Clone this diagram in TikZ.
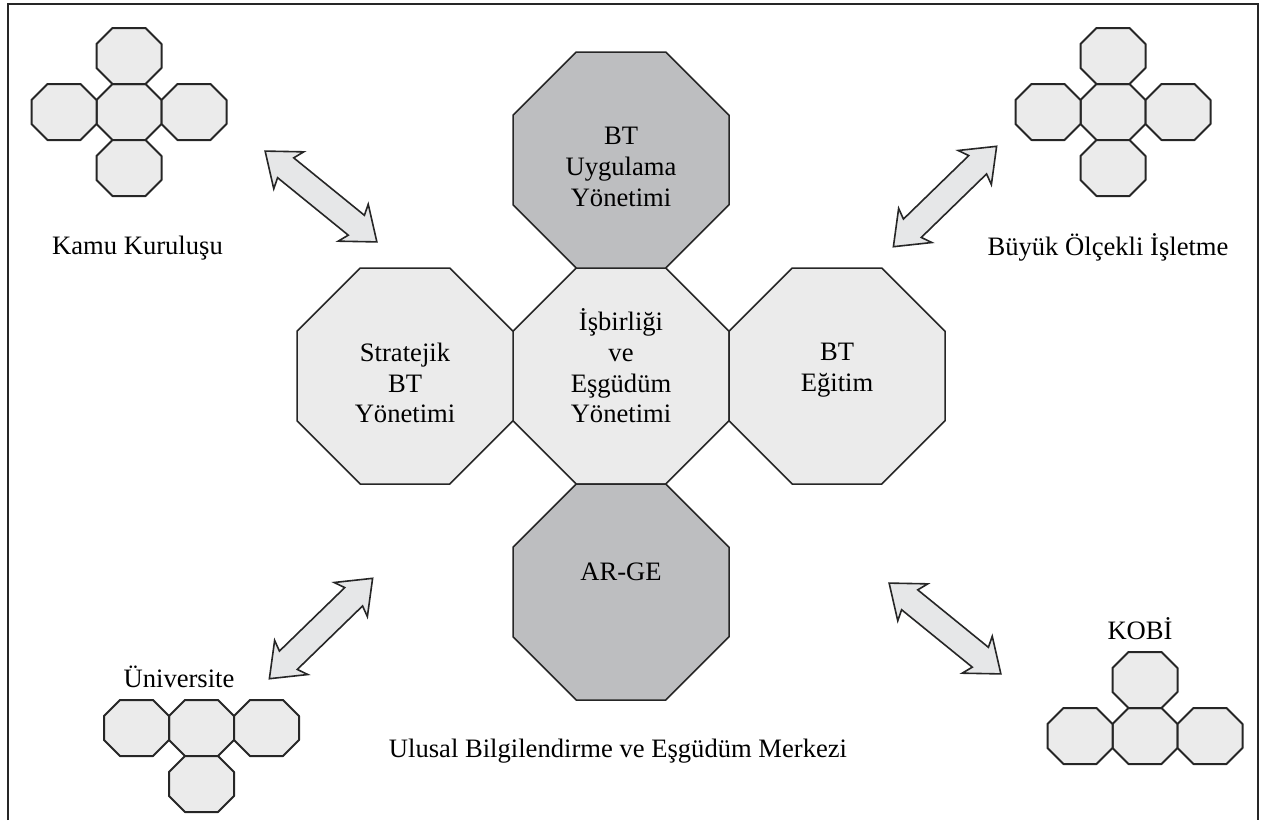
\documentclass[tikz,border=0pt]{standalone}
\usepackage{fontspec}
\setmainfont{Liberation Serif}
\usetikzlibrary{shapes.geometric,shapes.arrows}

\definecolor{octlight}{HTML}{EBEBEB}
\definecolor{octdark}{HTML}{BDBEC0}
\definecolor{arrowfill}{HTML}{E6E7E8}

\begin{document}
\begin{tikzpicture}[
    x=0.5pt, y=-0.5pt,
    bigoct/.style={regular polygon, regular polygon sides=8, draw=black!85,
        line width=0.75pt, minimum size=116.9pt, inner sep=0pt},
    smalloct/.pic={
        \draw[black!85, fill=octlight, line width=1pt, line join=round]
            (-32.5,-12) -- (-16.5,-28) -- (16.5,-28) -- (32.5,-12)
            -- (32.5,12) -- (16.5,28) -- (-16.5,28) -- (-32.5,12) -- cycle;
    },
    twoway/.style={double arrow, draw=black!85, fill=arrowfill, line width=0.8pt,
        minimum height=72pt, minimum width=23pt, double arrow head extend=5.5pt,
        double arrow tip angle=76, double arrow head indent=2pt,
        inner xsep=0pt, inner ysep=6pt},
    txt/.style={align=center, inner sep=0pt},
    font=\fontsize{13.3}{15.3}\selectfont
]
    \useasboundingbox (0,0) rectangle (1262,820);

    % cerceve
    \draw[line width=1.2pt, black!85] (8,820) -- (8,4) -- (1258,4) -- (1258,820);

    % 1. merkez (buyuk sekizgenler)
    \node[bigoct, fill=octlight] (coop)  at (621,376) {};
    \node[bigoct, fill=octdark]  (app)   at (621,160) {};
    \node[bigoct, fill=octlight] (strat) at (405,376) {};
    \node[bigoct, fill=octlight] (edu)   at (837,376) {};
    \node[bigoct, fill=octdark]  (arge)  at (621,592) {};

    \node[txt] (app-t)   at (621,167) {BT\\Uygulama\\Yönetimi};
    \node[txt] (strat-t) at (405,383) {Stratejik\\BT\\Yönetimi};
    \node[txt] (coop-t)  at (621,366) {İşbirliği\\ve\\Eşgüdüm\\Yönetimi};
    \node[txt] (edu-t)   at (837,370) {BT\\Eğitim};
    \node[txt] (arge-t)  at (621,572) {AR-GE};
    \node[anchor=base, inner sep=0pt] (merkez) at (618,757)
        {Ulusal Bilgilendirme ve Eşgüdüm Merkezi};

    % 2. Kamu Kurulusu (sol ust)
    \pic (kamu)   at (129,112) {smalloct};
    \pic (kamu-n) at (129,56)  {smalloct};
    \pic (kamu-s) at (129,168) {smalloct};
    \pic (kamu-w) at (64,112)  {smalloct};
    \pic (kamu-e) at (194,112) {smalloct};
    \node[anchor=base, inner sep=0pt] (kamu-l) at (137.5,254) {Kamu Kuruluşu};

    % 3. Buyuk Olcekli Isletme (sag ust)
    \pic (buyuk)   at (1113,112) {smalloct};
    \pic (buyuk-n) at (1113,56)  {smalloct};
    \pic (buyuk-s) at (1113,168) {smalloct};
    \pic (buyuk-w) at (1048,112) {smalloct};
    \pic (buyuk-e) at (1178,112) {smalloct};
    \node[anchor=base, inner sep=0pt] (buyuk-l) at (1108,255) {Büyük Ölçekli İşletme};

    % 4. Universite (sol alt)
    \pic (uni)   at (201.5,728) {smalloct};
    \pic (uni-w) at (136.5,728) {smalloct};
    \pic (uni-e) at (266.5,728) {smalloct};
    \pic (uni-s) at (201.5,784) {smalloct};
    \node[anchor=base, inner sep=0pt] (uni-l) at (179,687) {Üniversite};

    % 5. KOBI (sag alt)
    \pic (kobi)   at (1145,736) {smalloct};
    \pic (kobi-n) at (1145,680) {smalloct};
    \pic (kobi-w) at (1080,736) {smalloct};
    \pic (kobi-e) at (1210,736) {smalloct};
    \node[anchor=base, inner sep=0pt] (kobi-l) at (1140,639) {KOBİ};

    % 6. cift yonlu oklar
    \node[twoway, rotate=-39.1] (kamu-ok)  at (321,196.5) {};
    \node[twoway, rotate=44.2]  (buyuk-ok) at (945,196.5) {};
    \node[twoway, rotate=44.2]  (uni-ok)   at (321,628.5) {};
    \node[twoway, rotate=-39.1] (kobi-ok)  at (945,628.5) {};

\end{tikzpicture}
\end{document}
